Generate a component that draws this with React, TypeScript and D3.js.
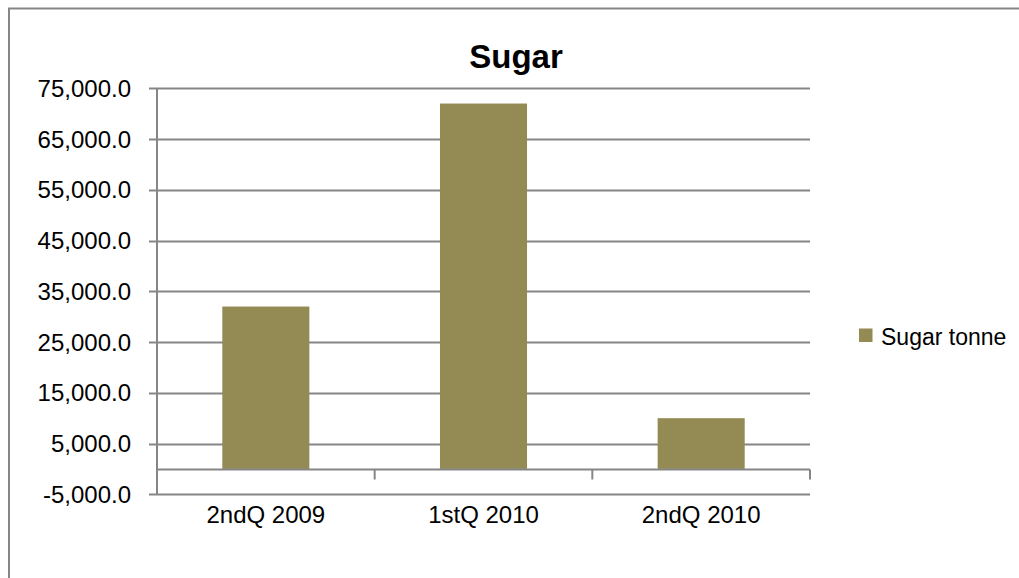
import React, { useEffect, useRef } from "react";
import * as d3 from "d3";

const categories = ["2ndQ 2009", "1stQ 2010", "2ndQ 2010"];
const sugarTonne = [32000, 72000, 10000];
const yTicks = [-5000, 5000, 15000, 25000, 35000, 45000, 55000, 65000, 75000];
const seriesName = "Sugar tonne";
const chartTitle = "Sugar";

const W = 1019;
const H = 578;
const plot = { left: 157, right: 810, top: 88.3, bottom: 494.3 };
const barColor = "#948A54";
const lineColor = "#868686";
const font = "'Liberation Sans', Arial, sans-serif";

const App = () => {
  const ref = useRef<SVGSVGElement>(null);

  useEffect(() => {
    const svg = d3.select(ref.current);
    svg.selectAll("*").remove();

    // chart area border (only left and top edges fall inside the picture)
    svg
      .append("path")
      .attr("d", `M9,${H + 10} L9,8.5 L${W + 10},8.5`)
      .attr("fill", "none")
      .attr("stroke", lineColor)
      .attr("stroke-width", 2);

    const y = d3.scaleLinear().domain([-5000, 75000]).range([plot.bottom, plot.top]);
    const x = d3
      .scaleBand()
      .domain(categories)
      .range([plot.left, plot.right])
      .paddingInner(0.6)
      .paddingOuter(0.3);

    // gridlines
    svg
      .append("g")
      .selectAll("line")
      .data(yTicks)
      .enter()
      .append("line")
      .attr("x1", plot.left - 8)
      .attr("x2", plot.right)
      .attr("y1", (d) => Math.round(y(d)) + 0.5)
      .attr("y2", (d) => Math.round(y(d)) + 0.5)
      .attr("stroke", lineColor)
      .attr("stroke-width", 2);

    // y labels
    svg
      .append("g")
      .selectAll("text")
      .data(yTicks)
      .enter()
      .append("text")
      .attr("x", 131)
      .attr("y", (d) => y(d) + 8.5)
      .attr("text-anchor", "end")
      .style("font-family", font)
      .style("font-size", "24px")
      .attr("fill", "#000")
      .text((d) => d3.format(",.1f")(d).replace("\u2212", "-"));

    // bars
    svg
      .append("g")
      .selectAll("rect")
      .data(sugarTonne)
      .enter()
      .append("rect")
      .attr("x", (d, i) => x(categories[i]) as number)
      .attr("width", x.bandwidth())
      .attr("y", (d) => y(d))
      .attr("height", (d) => y(0) - y(d))
      .attr("fill", barColor);

    // y axis line
    svg
      .append("line")
      .attr("x1", plot.left)
      .attr("x2", plot.left)
      .attr("y1", plot.top)
      .attr("y2", plot.bottom)
      .attr("stroke", lineColor)
      .attr("stroke-width", 2);

    // x axis at zero
    const y0 = Math.round(y(0)) + 0.5;
    svg
      .append("line")
      .attr("x1", plot.left)
      .attr("x2", plot.right)
      .attr("y1", y0)
      .attr("y2", y0)
      .attr("stroke", lineColor)
      .attr("stroke-width", 2);

    const step = (plot.right - plot.left) / categories.length;
    svg
      .append("g")
      .selectAll("line")
      .data(d3.range(categories.length + 1))
      .enter()
      .append("line")
      .attr("x1", (d) => plot.left + d * step)
      .attr("x2", (d) => plot.left + d * step)
      .attr("y1", y0)
      .attr("y2", y0 + 10)
      .attr("stroke", lineColor)
      .attr("stroke-width", 2);

    // category labels
    svg
      .append("g")
      .selectAll("text")
      .data(categories)
      .enter()
      .append("text")
      .attr("x", (d) => (x(d) as number) + x.bandwidth() / 2)
      .attr("y", 523)
      .attr("text-anchor", "middle")
      .style("font-family", font)
      .style("font-size", "24px")
      .attr("fill", "#000")
      .text((d) => d);

    // title
    svg
      .append("text")
      .attr("x", 516)
      .attr("y", 68)
      .attr("text-anchor", "middle")
      .style("font-family", font)
      .style("font-size", "33px")
      .style("font-weight", "bold")
      .attr("fill", "#000")
      .text(chartTitle);

    // legend
    svg
      .append("rect")
      .attr("x", 859)
      .attr("y", 328.5)
      .attr("width", 13.5)
      .attr("height", 13.5)
      .attr("fill", barColor);
    svg
      .append("text")
      .attr("x", 881)
      .attr("y", 345)
      .style("font-family", font)
      .style("font-size", "23px")
      .attr("fill", "#000")
      .text(seriesName);
  }, []);

  return (
    <svg
      ref={ref}
      width={W}
      height={H}
      style={{ position: "absolute", left: 0, top: 0, background: "#fff" }}
    ></svg>
  );
};

export default App;
